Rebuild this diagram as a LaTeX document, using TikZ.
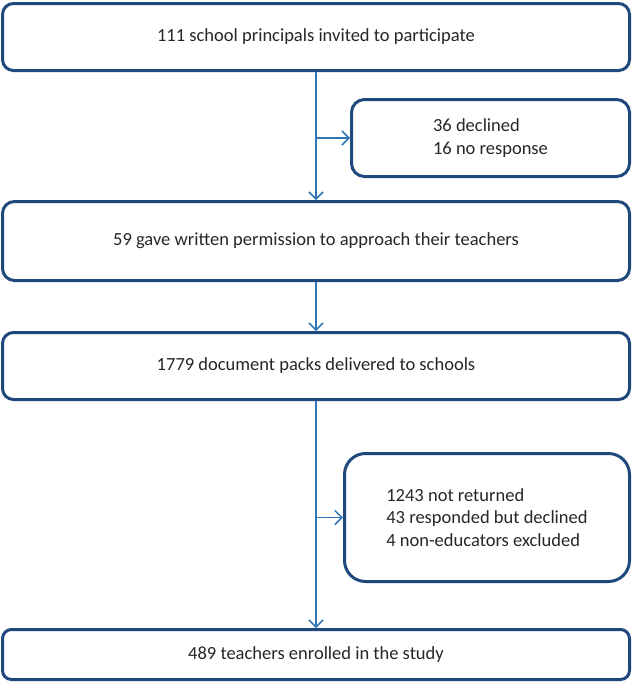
\documentclass[tikz,border=0pt]{standalone}
\usepackage{fontspec}
\setmainfont{Carlito}
\usetikzlibrary{arrows.meta}
\definecolor{boxblue}{RGB}{31,73,125}
\definecolor{arrowblue}{RGB}{46,117,182}

\begin{document}
\begin{tikzpicture}[x=1pt,y=-1pt,
    stage/.style={draw=boxblue,line width=3pt,minimum width=627pt,inner sep=0pt,
      text=black!85,font=\fontsize{18.5}{22.5}\selectfont},
    sidebox/.style={stage,align=left},
    flow/.style={draw=arrowblue,line width=1.5pt,
      -{Straight Barb[length=7pt,width=14pt]}}]
  \useasboundingbox (0,0) rectangle (633,683);
  % main stages
  \node[stage,minimum height=67pt,rounded corners=11pt] (invited) at (316,37)
    {111 school principals invited to participate};
  \node[stage,minimum height=79pt,rounded corners=12pt] (permission) at (316,241)
    {59 gave written permission to approach their teachers};
  \node[stage,minimum height=67pt,rounded corners=11pt] (packs) at (316,366)
    {1779 document packs delivered to schools};
  \node[stage,minimum height=50pt,rounded corners=9pt] (enrolled) at (316,654.5)
    {489 teachers enrolled in the study};
  % exclusions
  \node[sidebox,minimum width=278pt,minimum height=77pt,rounded corners=13pt] (declined) at (490.5,138)
    {36 declined\\16 no response};
  \node[sidebox,minimum width=285pt,minimum height=128pt,rounded corners=21pt] (excluded) at (487,517.5)
    {1243 not returned\\43 responded but declined\\4 non-educators excluded};
  % arrows
  \coordinate (split1) at (invited.south |- declined.west);
  \coordinate (split2) at (packs.south |- excluded.west);
  \draw[flow] (invited) -- (permission);
  \draw[flow] (split1) -- (declined.west);
  \draw[flow] (permission) -- (packs);
  \draw[flow] (packs) -- (enrolled);
  \draw[flow] (split2) -- (excluded.west);
\end{tikzpicture}
\end{document}
